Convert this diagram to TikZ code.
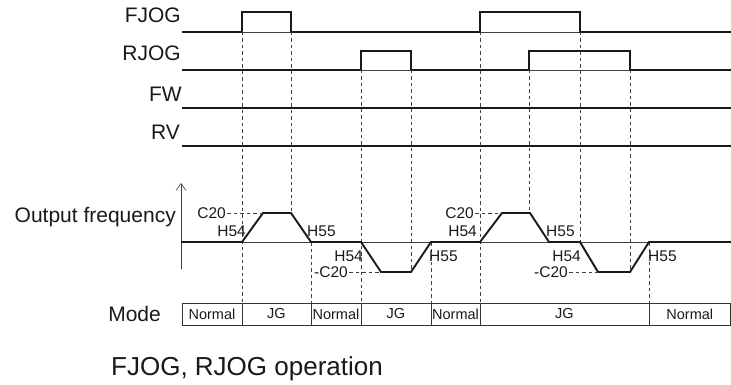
\documentclass[tikz,border=0pt]{standalone}
\usepackage{fontspec}
\setmainfont{Liberation Sans}
\usetikzlibrary{arrows.meta}
\tikzset{
    trace/.style={line width=1.9pt, black!90},
    thin/.style={line width=0.6pt, black!75},
    guide/.style={line width=0.7pt, black!75, dash pattern=on 3.5pt off 3pt},
    siglabel/.style={font=\fontsize{21}{24}\selectfont, anchor=base east, inner sep=0pt, text=black!90},
    val/.style={font=\fontsize{15.5}{18}\selectfont, inner sep=1pt, text=black!90},
    cell/.style={draw=black!80, line width=0.7pt, minimum height=22pt, inner sep=0pt, font=\fontsize{14.5}{16}\selectfont, text=black!90},
    arrow/.style={-{Straight Barb[length=7pt, width=10pt]}}
}

\begin{document}
\begin{tikzpicture}[x=1pt, y=-1pt]
\useasboundingbox (0,0) rectangle (731,385);

\node[siglabel] (fjog) at (181,23) {FJOG};
\node[siglabel] (rjog) at (181,61) {RJOG};
\node[siglabel] (fw) at (182,102) {FW};
\node[siglabel] (rv) at (180,140) {RV};
\node[siglabel, anchor=east] (out) at (176,217) {Output frequency};
\node[siglabel] (mode) at (161,321) {Mode};

\foreach \y in {32, 70} \draw[thin] (182,\y) -- (731,\y);
\draw[trace] (182,32) -- (242,32) -- (242,12) -- (291,12) -- (291,32) -- (480,32) -- (480,12) -- (580,12) -- (580,32) -- (731,32);
\draw[trace] (182,70) -- (361,70) -- (361,51) -- (411,51) -- (411,70) -- (529,70) -- (529,51) -- (630,51) -- (630,70) -- (731,70);
\draw[trace, line width=1.6pt] (182,108) -- (731,108);
\draw[trace, line width=1.6pt] (182,146) -- (731,146);

\foreach \x/\ya/\yb in {242/32/303, 291/32/213, 311/242/303, 361/70/303, 411/70/272, 431/242/303,
    480/32/303, 529/70/213, 580/32/242, 630/70/272, 649/242/303}
    \draw[guide] (\x,\ya) -- (\x,\yb);

\draw[thin, arrow] (181,269) -- (181,183);
\draw[thin] (181,242) -- (731,242);
\draw[trace] (181,242) -- (242,242) -- (263,213) -- (291,213) -- (311,242) -- (361,242) -- (381,272) -- (411,272) -- (431,242)
    -- (480,242) -- (502,213) -- (530,213) -- (549,242) -- (580,242) -- (598,272) -- (630,272) -- (649,242) -- (731,242);

\node[val, anchor=east] (c20a) at (227,213) {C20};
\node[val, anchor=east] (c20b) at (349,272) {-C20};
\node[val, anchor=east] (c20c) at (475,213) {C20};
\node[val, anchor=east] (c20d) at (569,272) {-C20};
\draw[guide] (c20a.east) -- (263,213);
\draw[guide] (c20b.east) -- (381,272);
\draw[guide] (c20c.east) -- (502,213);
\draw[guide] (c20d.east) -- (598,272);

\node[val, anchor=east] (h54a) at (247,231) {H54};
\node[val, anchor=west] (h55a) at (306,231) {H55};
\node[val, anchor=east] (h54b) at (364,256) {H54};
\node[val, anchor=west] (h55b) at (428,256) {H55};
\node[val, anchor=east] (h54c) at (478,231) {H54};
\node[val, anchor=west] (h55c) at (545,231) {H55};
\node[val, anchor=east] (h54d) at (582,256) {H54};
\node[val, anchor=west] (h55d) at (647,256) {H55};

\foreach \a/\b/\t [count=\i] in {182/242/Normal, 242/311/JG, 311/361/Normal, 361/431/JG, 431/480/Normal, 480/649/JG, 649/730.5/Normal}
    \node[cell, minimum width={(\b-\a)*1pt}] (m\i) at ({(\a+\b)/2},314) {\t};

\node[font=\fontsize{26}{30}\selectfont, anchor=base west, inner sep=0pt, text=black!90] (title) at (111,375) {FJOG, RJOG operation};
\end{tikzpicture}
\end{document}
